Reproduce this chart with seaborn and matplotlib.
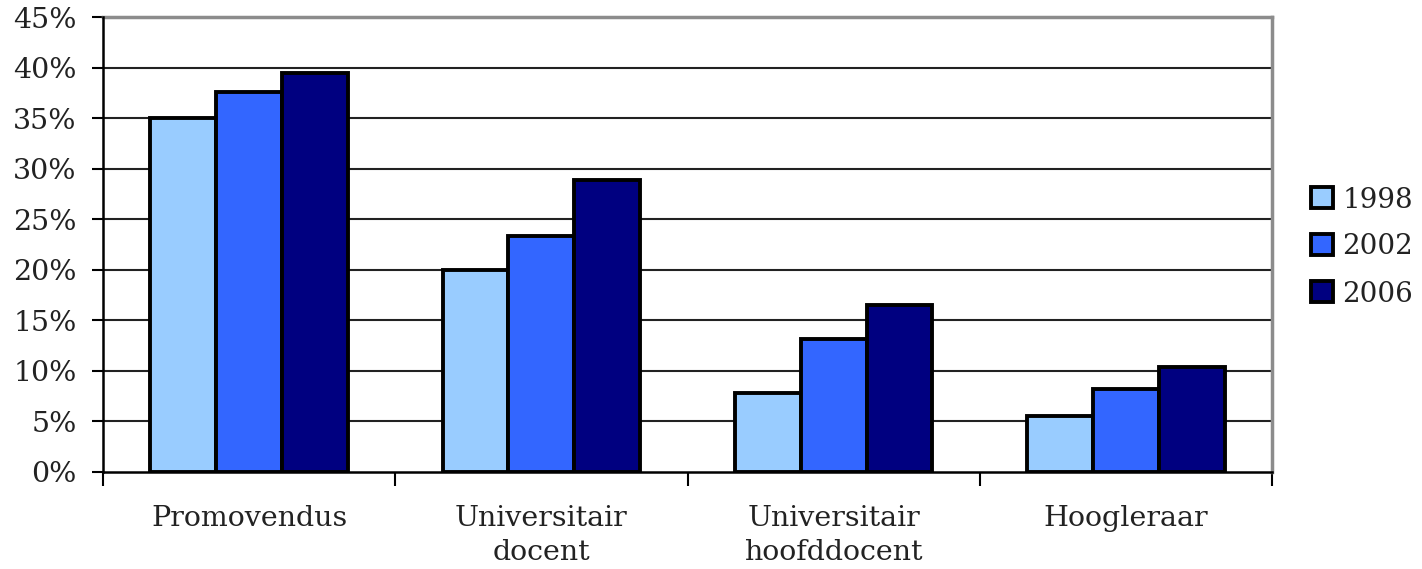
import matplotlib
matplotlib.use("Agg")
import matplotlib.pyplot as plt
import seaborn as sns
import pandas as pd
import numpy as np
from matplotlib.ticker import FixedLocator, FuncFormatter

categories = ["Promovendus", "Universitair\ndocent", "Universitair\nhoofddocent", "Hoogleraar"]
years = ["1998", "2002", "2006"]
v1998 = [35.0, 20.0, 7.8, 5.5]
v2002 = [37.6, 23.3, 13.2, 8.2]
v2006 = [39.5, 28.9, 16.5, 10.4]
colors = ["#99CCFF", "#3366FF", "#000080"]
yticks = [0, 5, 10, 15, 20, 25, 30, 35, 40, 45]

rows = []
for yr, vals in zip(years, [v1998, v2002, v2006]):
    for c, v in zip(categories, vals):
        rows.append({"cat": c, "year": yr, "val": v})
df = pd.DataFrame(rows)

sns.set_style("white")
plt.rcParams["font.family"] = ["DejaVu Serif"]

FS = 20.5

fig = plt.figure(figsize=(14.22, 5.69), dpi=100)
ax = fig.add_axes([103/1422, 1-472/569, (1272-103)/1422, (472-17)/569])

sns.barplot(data=df, x="cat", y="val", hue="year", order=categories, hue_order=years,
            palette=colors, width=0.675, edgecolor="black", linewidth=2.8,
            saturation=1, ax=ax, zorder=3)

ax.set_xlim(-0.5, 3.5)
ax.set_ylim(0, 45)
ax.set_yticks(yticks)
ax.yaxis.set_major_formatter(FuncFormatter(lambda v, p: f"{int(v)}%"))
ax.set_xlabel("")
ax.set_ylabel("")

for y in yticks[1:-1]:
    ax.axhline(y, color="#222222", lw=1.5, zorder=1)

ax.tick_params(axis="y", which="major", direction="out", length=8, width=1.5,
               color="black", labelsize=FS, pad=11, left=True)
ax.tick_params(axis="x", which="major", length=0, labelsize=FS, pad=24)
ax.xaxis.set_minor_locator(FixedLocator([-0.5, 0.5, 1.5, 2.5, 3.5]))
ax.tick_params(axis="x", which="minor", direction="out", length=10, width=1.5,
               color="black", bottom=True)
for lab in ax.get_xticklabels():
    lab.set_linespacing(1.3)
    lab.set_color("#222222")
for lab in ax.get_yticklabels():
    lab.set_color("#222222")

for s in ["left", "bottom"]:
    ax.spines[s].set_color("black")
    ax.spines[s].set_linewidth(1.8)
for s in ["top", "right"]:
    ax.spines[s].set_color("#8c8c8c")
    ax.spines[s].set_linewidth(2.5)
ax.spines["left"].set_zorder(5)
ax.spines["bottom"].set_zorder(5)

leg = ax.get_legend()
handles = leg.legend_handles
leg.remove()
fig.legend(handles, years, loc="center left", bbox_to_anchor=(1311/1422, 1-247/569),
           frameon=False, fontsize=20, handlelength=0.78, handleheight=0.78,
           handletextpad=0.35, labelspacing=0.72, borderpad=0, borderaxespad=0,
           labelcolor="#222222")

fig.savefig("out.png", dpi=100)
